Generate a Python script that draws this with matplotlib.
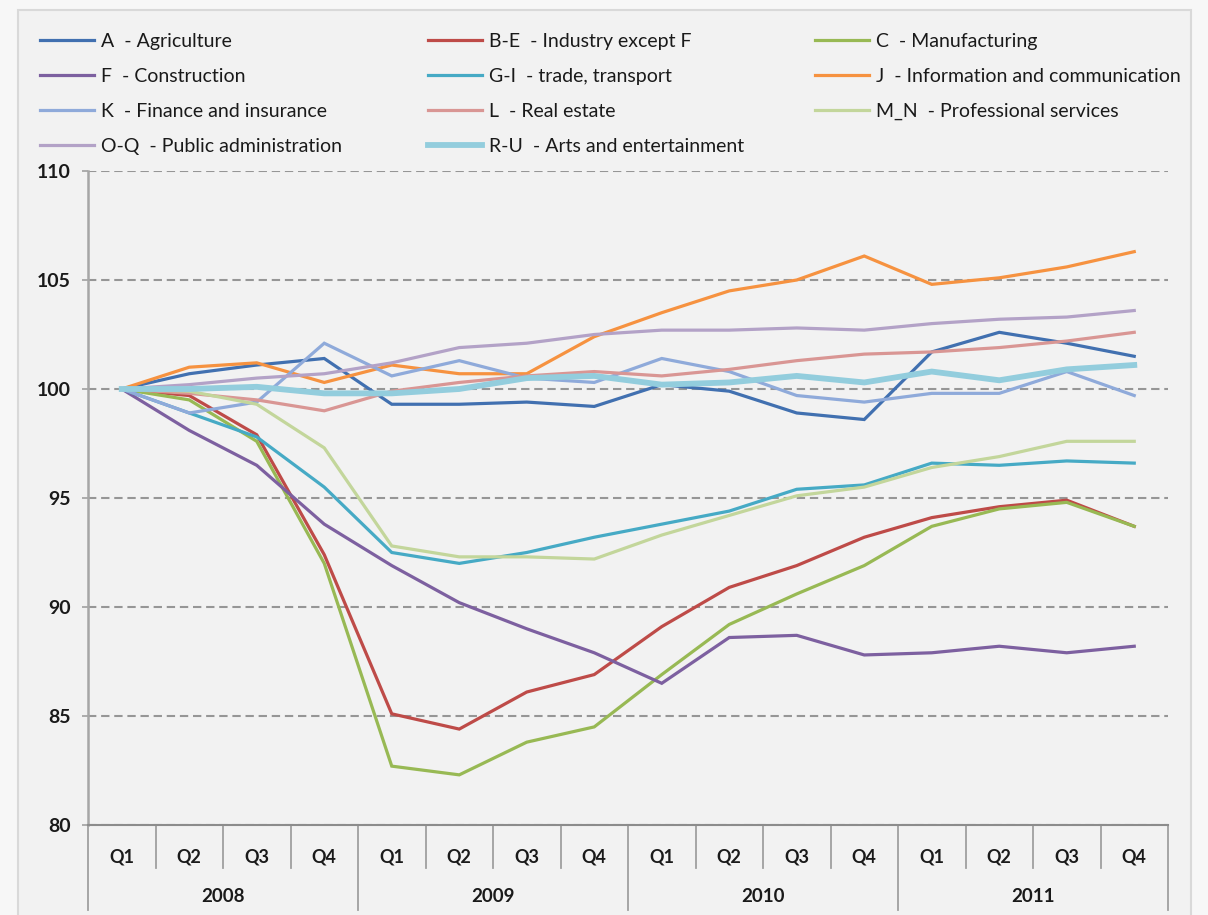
import matplotlib.pyplot as plt
import matplotlib.transforms as mtransforms
from matplotlib.patches import Rectangle

plt.rcParams['font.family'] = ['Lato', 'DejaVu Sans']

# categories
quarters = ["Q1", "Q2", "Q3", "Q4"] * 4
years = ["2008", "2009", "2010", "2011"]

# index values, 2008 Q1 = 100
agriculture = [100, 100.7, 101.1, 101.4, 99.3, 99.3, 99.4, 99.2,
               100.2, 99.9, 98.9, 98.6, 101.7, 102.6, 102.1, 101.5]
industry = [100, 99.7, 97.9, 92.4, 85.1, 84.4, 86.1, 86.9,
            89.1, 90.9, 91.9, 93.2, 94.1, 94.6, 94.9, 93.7]
manufacturing = [100, 99.5, 97.6, 92.0, 82.7, 82.3, 83.8, 84.5,
                 86.9, 89.2, 90.6, 91.9, 93.7, 94.5, 94.8, 93.7]
construction = [100, 98.1, 96.5, 93.8, 91.9, 90.2, 89.0, 87.9,
                86.5, 88.6, 88.7, 87.8, 87.9, 88.2, 87.9, 88.2]
trade = [100, 98.9, 97.8, 95.5, 92.5, 92.0, 92.5, 93.2,
         93.8, 94.4, 95.4, 95.6, 96.6, 96.5, 96.7, 96.6]
information = [100, 101.0, 101.2, 100.3, 101.1, 100.7, 100.7, 102.4,
               103.5, 104.5, 105.0, 106.1, 104.8, 105.1, 105.6, 106.3]
finance = [100, 98.9, 99.4, 102.1, 100.6, 101.3, 100.5, 100.3,
           101.4, 100.8, 99.7, 99.4, 99.8, 99.8, 100.8, 99.7]
real_estate = [100, 99.8, 99.5, 99.0, 99.9, 100.3, 100.6, 100.8,
               100.6, 100.9, 101.3, 101.6, 101.7, 101.9, 102.2, 102.6]
professional = [100, 99.9, 99.3, 97.3, 92.8, 92.3, 92.3, 92.2,
                93.3, 94.2, 95.1, 95.5, 96.4, 96.9, 97.6, 97.6]
public_admin = [100, 100.2, 100.5, 100.7, 101.2, 101.9, 102.1, 102.5,
                102.7, 102.7, 102.8, 102.7, 103.0, 103.2, 103.3, 103.6]
arts = [100, 100.0, 100.1, 99.8, 99.8, 100.0, 100.5, 100.6,
        100.2, 100.3, 100.6, 100.3, 100.8, 100.4, 100.9, 101.1]

series = [
    ("A  - Agriculture", agriculture, "#4170B0", 2.3),
    ("B-E  - Industry except F", industry, "#BE4B48", 2.3),
    ("C  - Manufacturing", manufacturing, "#98B954", 2.3),
    ("F  - Construction", construction, "#7D60A0", 2.3),
    ("G-I  - trade, transport", trade, "#46AAC5", 2.3),
    ("J  - Information and communication", information, "#F69240", 2.3),
    ("K  - Finance and insurance", finance, "#8FAADA", 2.3),
    ("L  - Real estate", real_estate, "#D99694", 2.3),
    ("M_N  - Professional services", professional, "#C3D69B", 2.3),
    ("O-Q  - Public administration", public_admin, "#B3A2C7", 2.3),
    ("R-U  - Arts and entertainment", arts, "#93CDDD", 4.2),
]

fig = plt.figure(figsize=(12.08, 9.15), dpi=100, facecolor="#f7f7f7")
fig.patches.append(Rectangle((18 / 1208, -0.01), 1173 / 1208, 1.0 - 10 / 915 + 0.01,
                             transform=fig.transFigure, facecolor="#f2f2f2",
                             edgecolor="#d9d9d9", linewidth=1.5, zorder=-1))

ax = fig.add_axes([88 / 1208, 90 / 915, 1080 / 1208, 654 / 915])
ax.set_facecolor("#f2f2f2")

x = list(range(len(quarters)))
lines = {}
for label, values, color, lw in series:
    lines[label] = ax.plot(x, values, color=color, linewidth=lw, label=label,
                           solid_joinstyle="miter")[0]

ax.set_xlim(-0.5, len(quarters) - 0.5)
ax.set_ylim(80, 110)
ax.set_yticks(range(80, 111, 5))
ax.yaxis.grid(True, linestyle=(0, (4, 2.3)), color="#969696", linewidth=1.5)
ax.set_axisbelow(True)
ax.tick_params(axis="y", length=4.5, width=1.2, color="#a0a0a0", pad=8,
               labelsize=14)
for t in ax.get_yticklabels():
    t.set_fontweight("bold")
    t.set_color("#1a1a1a")

for s in ["top", "right"]:
    ax.spines[s].set_visible(False)
ax.spines["left"].set_color("#a6a6a6")
ax.spines["left"].set_linewidth(1.8)
ax.spines["bottom"].set_color("#8c8c8c")
ax.spines["bottom"].set_linewidth(1.5)

# multi-level category axis
ax.set_xticks([])
trans = mtransforms.blended_transform_factory(ax.transData, ax.transAxes)
for i, q in enumerate(quarters):
    ax.text(i, -0.049, q, transform=trans, ha="center", va="center",
            fontsize=13, fontweight="bold", color="#1a1a1a")
for i in range(len(quarters) + 1):
    bound = i - 0.5
    depth = -0.13 if i % 4 == 0 else -0.066
    ax.plot([bound, bound], [0, depth], transform=trans, color="#a0a0a0",
            linewidth=1.3, clip_on=False)
for j, yr in enumerate(years):
    ax.text(j * 4 + 1.5, -0.110, yr, transform=trans, ha="center", va="center",
            fontsize=13.5, fontweight="bold", color="#1a1a1a")

# legend, three columns laid out row by row
labels = [s[0] for s in series]
columns = [labels[0::3], labels[1::3], labels[2::3]]
col_x = [40, 428, 815]
for cx, col in zip(col_x, columns):
    leg = fig.legend([lines[l] for l in col], col, loc="upper left",
                     bbox_to_anchor=(cx / 1208, 1 - 33 / 915),
                     frameon=False, fontsize=14, handlelength=2.78,
                     handletextpad=0.36, labelspacing=0.93, borderpad=0,
                     borderaxespad=0)
    for t in leg.get_texts():
        t.set_color("#1a1a1a")

plt.savefig("out.png", dpi=100, facecolor=fig.get_facecolor())
